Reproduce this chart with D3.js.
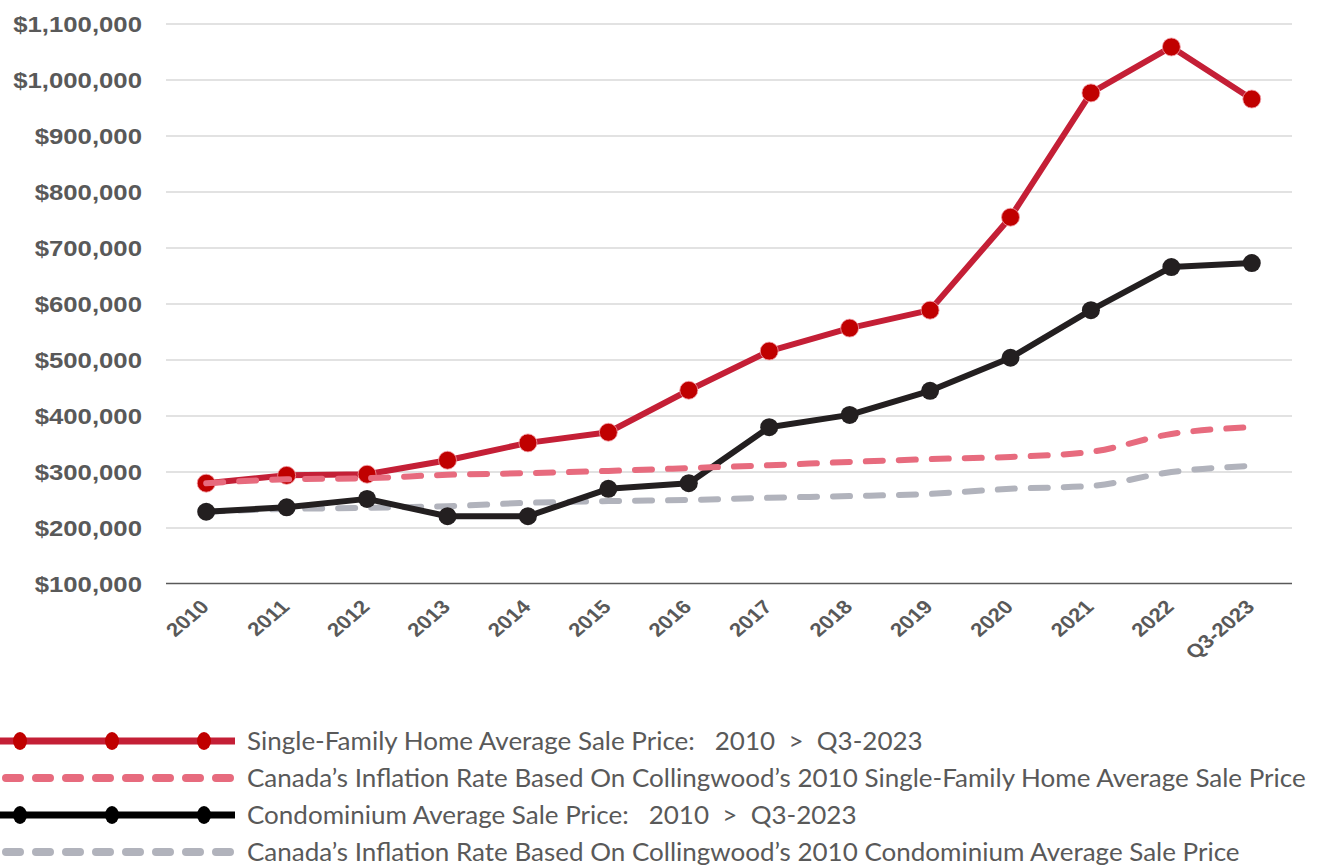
<!DOCTYPE html>
<html>
<head>
<meta charset="utf-8">
<script src="https://cdn.jsdelivr.net/npm/d3@7"></script>
<style>
  body { margin: 0; background: #fff; }
  svg { display: block; }
</style>
</head>
<body>
<div id="chart"></div>
<script>
// data
var years = ["2010","2011","2012","2013","2014","2015","2016","2017","2018","2019","2020","2021","2022","Q3-2023"];
var singleFamily = [280000,294000,296000,321000,352000,371000,446000,516000,557000,589000,755000,977000,1059000,966000];
var sfInflation  = [280000,287000,289000,295000,298000,302000,307000,312000,318000,323000,327000,336000,368000,380000];
var condo        = [229000,237000,252000,221000,221000,270000,280000,380000,402000,445000,504000,589000,666000,673000];
var condoInflation = [229000,234000,236000,239000,245000,248000,250000,254000,257000,261000,270000,275000,300000,311000];
var yTicks = [100000,200000,300000,400000,500000,600000,700000,800000,900000,1000000,1100000];
var legendLabels = [
  "Single-Family Home Average Sale Price:   2010  >  Q3-2023",
  "Canada\u2019s Inflation Rate Based On Collingwood\u2019s 2010 Single-Family Home Average Sale Price",
  "Condominium Average Sale Price:   2010  >  Q3-2023",
  "Canada\u2019s Inflation Rate Based On Collingwood\u2019s 2010 Condominium Average Sale Price"
];

var w = 1317, h = 865;
var plotLeft = 166, plotRight = 1292, plotTop = 24, plotBottom = 584;
var sx = 1.17; // the source picture is stretched sideways

var svg = d3.select("#chart").append("svg")
    .attr("width", w)
    .attr("height", h);

var x = d3.scalePoint().domain(years).range([plotLeft, plotRight]).padding(0.5);
var y = d3.scaleLinear().domain([100000, 1100000]).range([plotBottom, plotTop]);

// grid
svg.append("g").selectAll("line").data(yTicks.slice(1)).enter().append("line")
   .attr("x1", plotLeft).attr("x2", plotRight)
   .attr("y1", function(d) { return y(d); }).attr("y2", function(d) { return y(d); })
   .attr("stroke", "#d9d9d9").attr("stroke-width", 1.3);

// y labels
var fmt = d3.format("$,");
svg.append("g").selectAll("text").data(yTicks).enter().append("text")
   .attr("transform", function(d) { return "translate(142," + (y(d) + 8) + ") scale(" + sx + ",1)"; })
   .attr("text-anchor", "end")
   .attr("font-family", "Liberation Sans, Arial, sans-serif")
   .attr("font-weight", "bold")
   .attr("font-size", 22)
   .attr("fill", "#595959")
   .text(function(d) { return fmt(d); });

// baseline
svg.append("line")
   .attr("x1", plotLeft).attr("x2", plotRight)
   .attr("y1", plotBottom - 0.5).attr("y2", plotBottom - 0.5)
   .attr("stroke", "#595959").attr("stroke-width", 1.5);

// x labels
svg.append("g").selectAll("text").data(years).enter().append("text")
   .attr("transform", function(d) { return "translate(" + (x(d) + 4) + ",608) scale(" + sx + ",1) rotate(-45)"; })
   .attr("text-anchor", "end")
   .attr("font-family", "Liberation Sans, Arial, sans-serif")
   .attr("font-weight", "bold")
   .attr("font-size", 19)
   .attr("fill", "#595959")
   .text(function(d) { return d; });

function series(vals) {
  return years.map(function(d, i) { return { year: d, v: vals[i] }; });
}

var straight = d3.line().x(function(d) { return x(d.year); }).y(function(d) { return y(d.v); });
var smooth = d3.line().x(function(d) { return x(d.year); }).y(function(d) { return y(d.v); })
    .curve(d3.curveMonotoneX);

// condo inflation (dashed grey)
svg.append("path").datum(series(condoInflation))
   .attr("d", smooth).attr("fill", "none")
   .attr("stroke", "#b1b3bc").attr("stroke-width", 6)
   .attr("stroke-linecap", "round").attr("stroke-dasharray", "17,16");

// condo
svg.append("path").datum(series(condo))
   .attr("d", straight).attr("fill", "none")
   .attr("stroke", "#231f20").attr("stroke-width", 6)
   .attr("stroke-linejoin", "round");
svg.append("g").selectAll("circle").data(series(condo)).enter().append("circle")
   .attr("cx", function(d) { return x(d.year); }).attr("cy", function(d) { return y(d.v); })
   .attr("r", 9).attr("fill", "#231f20");

// single family
svg.append("path").datum(series(singleFamily))
   .attr("d", straight).attr("fill", "none")
   .attr("stroke", "#c41f36").attr("stroke-width", 6)
   .attr("stroke-linejoin", "round");
svg.append("g").selectAll("circle").data(series(singleFamily)).enter().append("circle")
   .attr("cx", function(d) { return x(d.year); }).attr("cy", function(d) { return y(d.v); })
   .attr("r", 9).attr("fill", "#c00000")
   .attr("stroke", "#f2a0a8").attr("stroke-width", 0.8);

// SF inflation (dashed pink)
svg.append("path").datum(series(sfInflation))
   .attr("d", smooth).attr("fill", "none")
   .attr("stroke", "#e76b7e").attr("stroke-width", 6)
   .attr("stroke-linecap", "round").attr("stroke-dasharray", "17,16");

// legend
var legend = svg.append("g");
var rows = [
  { color: "#c41f36", dash: null, dot: "#c00000" },
  { color: "#e76b7e", dash: "14,16", dot: null },
  { color: "#000000", dash: null, dot: "#000000" },
  { color: "#b1b3bc", dash: "14,16", dot: null }
];
rows.forEach(function(r, i) {
  var yy = 741 + i * 37;
  legend.append("line")
     .attr("x1", r.dash ? 6 : 0).attr("x2", 235).attr("y1", yy).attr("y2", yy)
     .attr("stroke", r.color).attr("stroke-width", r.dash ? 8 : 7)
     .attr("stroke-linecap", r.dash ? "round" : "butt")
     .attr("stroke-dasharray", r.dash);
  if (r.dot) {
    [20, 112, 204].forEach(function(cx) {
      legend.append("ellipse").attr("cx", cx).attr("cy", yy).attr("rx", 7).attr("ry", 9).attr("fill", r.dot);
    });
  }
  legend.append("text")
     .attr("transform", "translate(247," + (yy + 9) + ") scale(1.04,1)")
     .attr("font-family", "Lato, sans-serif")
     .attr("font-size", 25)
     .attr("fill", "#595959")
     .style("white-space", "pre")
     .text(legendLabels[i]);
});
</script>
</body>
</html>
